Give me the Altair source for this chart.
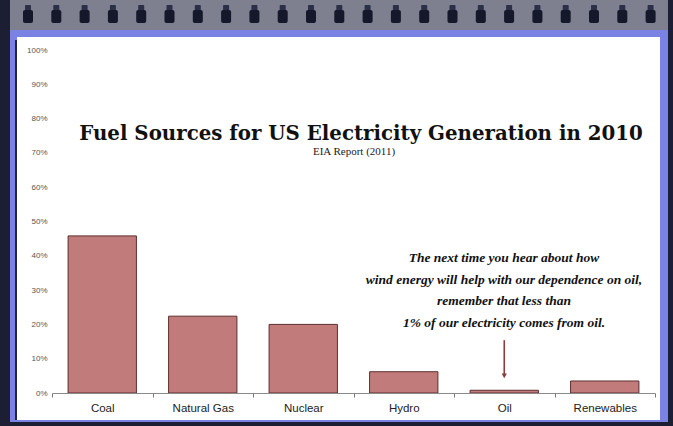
import altair as alt
import pandas as pd

# ---- data ----
categories = ["Coal", "Natural Gas", "Nuclear", "Hydro", "Oil", "Renewables"]
shares = [45.8, 22.4, 20.0, 6.2, 0.8, 3.5]
y_ticks = [0, 10, 20, 30, 40, 50, 60, 70, 80, 90, 100]
title_text = "Fuel Sources for US Electricity Generation in 2010"
subtitle_text = "EIA Report (2011)"
note_lines = [
    "The next time you hear about how",
    "wind energy will help with our dependence on oil,",
    "remember that less than",
    "1% of our electricity comes from oil.",
]
arrow_category = ["Oil"]
arrow_from = [15.4]
arrow_to = [5.0]
ring_count = 23

# ---- layout (plot area) ----
W, H = 603, 343
PAD = {"left": 52, "top": 50, "right": 18, "bottom": 33}

BAR_FILL = "#c27b7b"
BAR_STROKE = "#5e2e2e"
ARROW = "#8c3c3c"

df = pd.DataFrame({"source": categories, "share": shares})
arrow_df = pd.DataFrame({"source": arrow_category, "y0": arrow_from, "y1": arrow_to})

one = alt.Data(values=[{"k": 1}])

def frame_rect(x0, x1, y0, y1, color, **kw):
    return alt.Chart(one).mark_rect(color=color, **kw).encode(
        x=alt.value(x0), x2=alt.value(x1), y=alt.value(y0), y2=alt.value(y1)
    )

gray_band = frame_rect(-42, 616, -50, -20, "#7e7f8f")
blue_band = frame_rect(-42, 616, -20, 372, "#7a82e4")
white_panel = frame_rect(-35, 608, -13, 370, "#ffffff")
left_line = frame_rect(-37, -35, -10, 370, "#23253a")

rings_body = (
    alt.Chart(alt.sequence(0, ring_count, as_="i"))
    .transform_calculate(cx="-24 + datum.i * 28.3")
    .transform_calculate(xa="datum.cx - 5", xb="datum.cx + 5")
    .mark_rect(color="#15182a", cornerRadius=2)
    .encode(
        x=alt.X("xa:Q", scale=None, axis=None),
        x2="xb:Q",
        y=alt.value(-40),
        y2=alt.value(-27),
    )
)
rings_top = (
    alt.Chart(alt.sequence(0, ring_count, as_="i"))
    .transform_calculate(cx="-24 + datum.i * 28.3")
    .transform_calculate(xa="datum.cx - 3", xb="datum.cx + 3")
    .mark_rect(color="#2c2f48", cornerRadius=1)
    .encode(
        x=alt.X("xa:Q", scale=None, axis=None),
        x2="xb:Q",
        y=alt.value(-45),
        y2=alt.value(-39),
    )
)

x_scale = alt.Scale(domain=categories, paddingInner=0, paddingOuter=0)
y_scale = alt.Scale(domain=[0, 100])

x_axis = alt.Axis(
    tickBand="extent",
    labelAngle=0,
    labelFont="Liberation Sans",
    labelFontSize=11.5,
    labelColor="#222222",
    labelPadding=5,
    tickSize=4,
    tickColor="#777777",
    domainColor="#8a8a8a",
    zindex=1,
)
y_axis = alt.Axis(
    values=y_ticks,
    labelExpr="datum.value + '%'",
    labelFont="Liberation Sans",
    labelFontSize=8,
    labelColor="#555555",
    labelPadding=5,
    labelOverlap=False,
    labelFlush=False,
    ticks=False,
    domain=False,
    grid=False,
    zindex=1,
)

def xenc():
    return alt.X("source:N", sort=categories, scale=x_scale, title=None, axis=x_axis)

bars = alt.Chart(df).mark_bar(
    width=alt.RelativeBandSize(0.68), fill=BAR_FILL, stroke=BAR_STROKE, strokeWidth=1
).encode(
    x=xenc(),
    y=alt.Y("share:Q", scale=y_scale, title=None, axis=y_axis),
)

arrow_line = alt.Chart(arrow_df).mark_rule(color=ARROW, strokeWidth=1.6).encode(
    x=xenc(),
    y=alt.Y("y0:Q", scale=y_scale, title=None, axis=y_axis),
    y2="y1:Q",
)
arrow_head = alt.Chart(arrow_df).mark_point(
    shape="triangle-down", filled=True, color=ARROW, size=28, opacity=1
).encode(
    x=xenc(),
    y=alt.Y("y1:Q", scale=y_scale, title=None, axis=y_axis),
)

title = alt.Chart(one).mark_text(
    text=title_text, font="DejaVu Serif", fontWeight="bold", fontSize=19.8,
    color="#111111", align="center", baseline="alphabetic",
).encode(x=alt.value(309), y=alt.value(90))

subtitle = alt.Chart(one).mark_text(
    text=subtitle_text, font="Liberation Serif", fontSize=11,
    color="#222222", align="center", baseline="alphabetic",
).encode(x=alt.value(302), y=alt.value(105))

note = alt.Chart(one).mark_text(
    text="\n".join(note_lines), lineBreak="\n", lineHeight=21.5,
    font="Liberation Serif", fontStyle="italic", fontWeight="bold", fontSize=13.5,
    color="#111111", align="center", baseline="alphabetic",
).encode(x=alt.value(452), y=alt.value(212))

data_layer = alt.layer(bars, arrow_line, arrow_head, title, subtitle, note)

chart = (
    alt.layer(gray_band, blue_band, white_panel, left_line, rings_top, rings_body, data_layer)
    .resolve_scale(x="independent")
    .properties(
        width=W, height=H, autosize=alt.AutoSizeParams(type="none"), padding=PAD,
        background="#1c1f34",
    )
    .configure_view(stroke=None)
)

chart.save("out.html", embed_options={"renderer": "svg", "actions": False})
